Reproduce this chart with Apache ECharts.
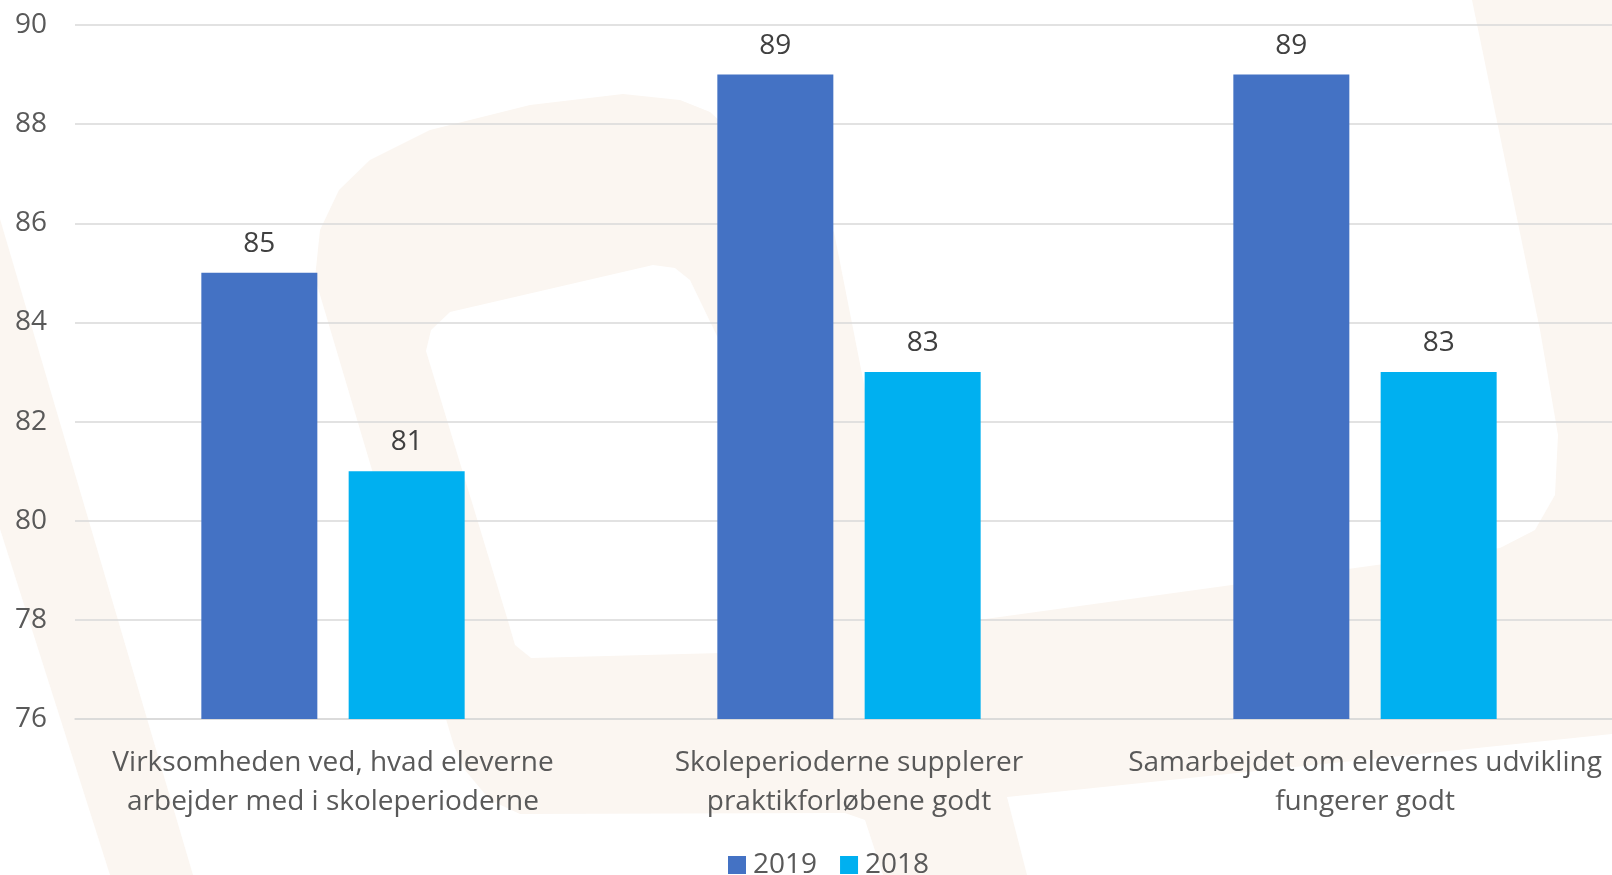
<!DOCTYPE html>
<html>
<head>
<meta charset="utf-8">
<script src="https://cdn.jsdelivr.net/npm/echarts@6/dist/echarts.min.js"></script>
<style>
html,body{margin:0;padding:0;background:#fff;}
#chart{width:1612px;height:875px;}
</style>
</head>
<body>
<div id="chart"></div>
<script>
// ---- data ----
const categories = [
  'Virksomheden ved, hvad eleverne\narbejder med i skoleperioderne',
  'Skoleperioderne supplerer\npraktikforløbene godt',
  'Samarbejdet om elevernes udvikling\nfungerer godt'
];
const seriesNames = ['2019', '2018'];
const values2019 = [85, 89, 89];
const values2018 = [81, 83, 83];
const yMin = 76, yMax = 90, yStep = 2;

// ---- faint background logo (decorative) ----
const beige = '#FBF6F1';
const bgShapes = [
  {pts: [[0,219],[193,875],[110,875],[0,529]], fill: beige, z: -100},
  {pts: [[315,278],[320,230],[339,190],[370,160],[430,130],[530,105],[623,94],[680,100],[710,112],[740,140],
         [834,232],[862,374],[890,520],[905,600],[925,625],[978,620],[1500,548],[1535,530],[1555,495],[1558,435],
         [1540,330],[1472,0],[1612,0],[1612,734],[1007,797],[1027,875],[883,875],[865,820],[845,813],
         [520,814],[490,800],[465,770],[454,746]], fill: beige, z: -100},
  {pts: [[426,351],[431,330],[450,312],[653,265],[675,268],[690,280],[718,338],[760,450],[795,600],
         [790,645],[760,652],[531,658],[515,645],[508,621]], fill: '#ffffff', z: -99}
];

const chart = echarts.init(document.getElementById('chart'), null, {renderer: 'canvas'});
const font = '"Open Sans", "Noto Sans", sans-serif';
const fs = 28;

chart.setOption({
  backgroundColor: '#ffffff',
  animation: false,
  textStyle: {fontFamily: font},
  graphic: bgShapes.map(s => ({
    type: 'polygon', silent: true, z: s.z,
    shape: {points: s.pts},
    style: {fill: s.fill}
  })),
  grid: {left: 75, top: 25, width: 1548, height: 694, containLabel: false, outerBoundsMode: 'none'},
  legend: {
    data: seriesNames,
    left: 728, top: 851, padding: 0,
    icon: 'rect', itemWidth: 18, itemHeight: 18, itemGap: 23,
    textStyle: {fontSize: fs, color: '#595959', fontFamily: font, lineHeight: 28, padding: [0,0,0,2]}
  },
  xAxis: {
    type: 'category',
    data: categories,
    axisLine: {show: true, lineStyle: {color: '#D9D9D9', width: 1.5}},
    axisTick: {show: false},
    axisLabel: {fontSize: fs, color: '#595959', lineHeight: 39, margin: 25, interval: 0, fontFamily: font}
  },
  yAxis: {
    type: 'value',
    min: yMin, max: yMax, interval: yStep,
    axisLine: {show: false},
    axisTick: {show: false},
    axisLabel: {fontSize: fs, color: '#595959', margin: 28, fontFamily: font},
    splitLine: {lineStyle: {color: '#D9D9D9', width: 1.5}}
  },
  series: [
    {
      name: seriesNames[0], type: 'bar', data: values2019,
      barWidth: 116, barGap: '27%',
      itemStyle: {color: '#4472C4'},
      label: {show: true, position: 'top', distance: 15, fontSize: fs, color: '#404040', fontFamily: font}
    },
    {
      name: seriesNames[1], type: 'bar', data: values2018,
      barWidth: 116, barGap: '27%',
      itemStyle: {color: '#00B0F0'},
      label: {show: true, position: 'top', distance: 15, fontSize: fs, color: '#404040', fontFamily: font}
    }
  ]
});
</script>
</body>
</html>
